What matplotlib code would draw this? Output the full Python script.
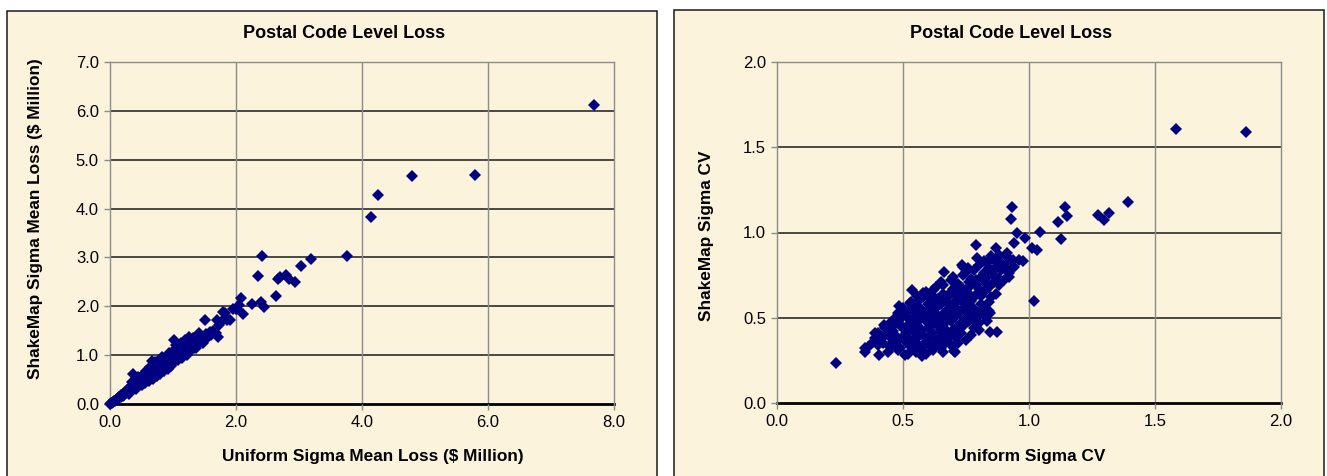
import numpy as np
import matplotlib
matplotlib.use("Agg")
import matplotlib.pyplot as plt
from matplotlib.patches import Rectangle

plt.rcParams['font.family'] = ['Liberation Sans', 'DejaVu Sans']

W, H = 1327, 476

# postal code mean loss, $ Million: (uniform sigma, shakemap sigma)
loss_points = [
    (0.00, 0.00), (0.02, 0.02), (0.03, 0.03), (0.05, 0.04), (0.06, 0.06), (0.08, 0.07),
    (0.09, 0.09), (0.11, 0.10), (0.12, 0.12), (0.14, 0.12), (0.15, 0.15), (0.17, 0.14),
    (0.18, 0.18), (0.20, 0.16), (0.21, 0.21), (0.23, 0.19), (0.24, 0.25), (0.26, 0.22),
    (0.27, 0.28), (0.29, 0.24), (0.30, 0.32), (0.32, 0.27), (0.33, 0.35), (0.35, 0.29),
    (0.36, 0.39), (0.37, 0.62), (0.38, 0.33), (0.40, 0.44), (0.41, 0.36), (0.43, 0.47),
    (0.44, 0.39), (0.46, 0.51), (0.47, 0.41), (0.49, 0.55), (0.50, 0.44), (0.52, 0.59),
    (0.53, 0.47), (0.55, 0.63), (0.56, 0.50), (0.58, 0.56), (0.60, 0.70), (0.61, 0.53),
    (0.63, 0.62), (0.66, 0.88), (0.66, 0.73), (0.67, 0.57), (0.69, 0.79), (0.70, 0.65),
    (0.72, 0.61), (0.73, 0.84), (0.75, 0.71), (0.76, 0.67), (0.78, 0.90), (0.79, 0.75),
    (0.81, 0.70), (0.82, 0.96), (0.84, 0.81), (0.85, 0.74), (0.87, 0.89), (0.88, 0.79),
    (0.90, 0.98), (0.91, 0.85), (0.93, 0.81), (0.95, 0.93), (0.96, 1.03), (0.98, 0.88),
    (1.01, 1.32), (1.01, 0.96), (1.03, 1.11), (1.05, 0.93), (1.07, 1.03), (1.09, 1.16),
    (1.11, 0.99), (1.13, 1.08), (1.16, 1.01), (1.18, 1.21), (1.20, 1.11), (1.23, 1.07),
    (1.26, 1.38), (1.27, 1.16), (1.30, 1.23), (1.33, 1.14), (1.35, 1.31), (1.38, 1.21),
    (1.40, 1.41), (1.43, 1.28), (1.45, 1.36), (1.48, 1.31), (1.51, 1.71), (1.52, 1.43),
    (1.55, 1.38), (1.58, 1.47), (1.61, 1.41), (1.64, 1.50), (1.68, 1.45), (1.70, 1.72),
    (1.72, 1.38), (1.73, 1.62), (1.77, 1.70), (1.80, 1.89), (1.82, 1.86), (1.85, 1.71),
    (1.90, 1.71), (1.95, 1.95), (2.00, 1.94), (2.02, 1.95), (2.05, 2.02), (2.08, 2.16),
    (2.11, 1.85), (2.25, 2.04), (2.35, 2.61), (2.40, 2.09), (2.42, 3.03), (2.44, 1.98),
    (2.63, 2.22), (2.66, 2.55), (2.70, 2.59), (2.79, 2.64), (2.84, 2.55), (2.94, 2.49),
    (3.03, 2.82), (3.19, 2.97), (3.76, 3.03), (4.14, 3.82), (4.26, 4.28), (4.80, 4.67),
    (5.79, 4.69), (7.69, 6.12),
    (0.30, 0.20), (0.35, 0.45), (0.42, 0.30), (0.45, 0.55), (0.50, 0.38), (0.55, 0.42),
    (0.57, 0.68), (0.62, 0.48), (0.64, 0.76), (0.68, 0.52), (0.71, 0.85), (0.74, 0.58),
    (0.77, 0.80), (0.80, 0.62), (0.83, 0.88), (0.86, 0.68), (0.89, 0.93), (0.92, 0.72),
    (0.94, 1.05), (0.97, 0.78), (1.00, 1.08), (1.02, 0.86), (1.05, 1.20), (1.08, 0.90),
    (1.12, 1.25), (1.15, 0.95), (1.19, 1.30), (1.22, 1.00), (1.25, 1.25), (1.29, 1.10),
    (1.32, 1.35), (1.37, 1.15), (1.42, 1.45), (1.47, 1.24), (1.50, 1.40),
]

# postal code coefficient of variation: (uniform sigma, shakemap sigma)
cv_points = [
    (0.235, 0.236), (0.348, 0.322), (0.348, 0.297), (0.389, 0.410), (0.404, 0.281),
    (0.425, 0.459), (0.429, 0.448), (0.486, 0.570), (0.534, 0.664), (0.528, 0.588),
    (0.557, 0.629), (0.581, 0.645), (0.618, 0.629), (0.663, 0.766), (0.704, 0.307),
    (0.706, 0.301), (0.733, 0.812), (0.759, 0.790), (0.792, 0.852), (0.788, 0.927),
    (0.869, 0.911), (0.911, 0.878), (0.937, 0.840), (0.977, 0.830), (0.832, 0.819),
    (0.940, 0.937), (0.954, 0.999), (0.984, 0.970), (0.929, 1.081), (0.931, 1.148),
    (1.012, 0.908), (1.032, 0.898), (1.045, 1.002), (1.018, 0.600), (1.116, 1.064),
    (1.126, 0.961), (1.141, 1.148), (1.151, 1.098), (1.273, 1.104), (1.297, 1.074),
    (1.317, 1.113), (1.392, 1.176), (1.583, 1.607), (1.861, 1.590), (0.844, 0.418),
    (0.873, 0.418), (0.834, 0.479), (0.846, 0.527), (0.576, 0.277), (0.508, 0.283),
    (0.44, 0.30), (0.48, 0.31), (0.52, 0.29), (0.55, 0.30), (0.59, 0.29), (0.62, 0.31), (0.66, 0.30),
    (0.36, 0.33), (0.40, 0.34), (0.45, 0.33), (0.49, 0.32), (0.53, 0.33), (0.57, 0.32),
    (0.61, 0.33), (0.65, 0.32), (0.69, 0.34),
    (0.38, 0.36), (0.42, 0.35), (0.47, 0.35), (0.51, 0.36), (0.55, 0.35), (0.59, 0.36),
    (0.63, 0.35), (0.67, 0.36), (0.72, 0.35),
    (0.41, 0.38), (0.45, 0.39), (0.48, 0.37), (0.52, 0.38), (0.56, 0.39), (0.60, 0.38),
    (0.64, 0.37), (0.68, 0.39), (0.71, 0.38), (0.75, 0.37),
    (0.40, 0.41), (0.44, 0.42), (0.47, 0.40), (0.51, 0.41), (0.54, 0.42), (0.58, 0.40),
    (0.62, 0.41), (0.65, 0.42), (0.69, 0.40), (0.73, 0.41), (0.77, 0.40), (0.80, 0.43),
    (0.43, 0.44), (0.46, 0.45), (0.50, 0.44), (0.53, 0.45), (0.57, 0.43), (0.60, 0.44),
    (0.64, 0.45), (0.67, 0.43), (0.71, 0.44), (0.74, 0.45), (0.78, 0.44),
    (0.45, 0.47), (0.48, 0.48), (0.52, 0.46), (0.55, 0.47), (0.59, 0.48), (0.62, 0.47),
    (0.66, 0.46), (0.69, 0.48), (0.73, 0.47), (0.76, 0.48), (0.80, 0.47),
    (0.47, 0.50), (0.50, 0.51), (0.54, 0.49), (0.57, 0.50), (0.61, 0.51), (0.64, 0.49),
    (0.68, 0.50), (0.71, 0.51), (0.75, 0.50), (0.78, 0.49), (0.82, 0.51),
    (0.48, 0.53), (0.52, 0.54), (0.55, 0.52), (0.59, 0.53), (0.62, 0.54), (0.66, 0.52),
    (0.69, 0.53), (0.73, 0.54), (0.76, 0.52), (0.80, 0.53), (0.84, 0.54),
    (0.50, 0.56), (0.54, 0.57), (0.57, 0.55), (0.61, 0.56), (0.64, 0.57), (0.68, 0.55),
    (0.71, 0.56), (0.75, 0.57), (0.78, 0.55), (0.82, 0.56),
    (0.53, 0.59), (0.56, 0.60), (0.60, 0.58), (0.63, 0.59), (0.67, 0.60), (0.70, 0.58),
    (0.74, 0.59), (0.77, 0.60), (0.81, 0.58), (0.84, 0.59),
    (0.57, 0.62), (0.60, 0.63), (0.64, 0.61), (0.67, 0.62), (0.71, 0.63), (0.74, 0.61),
    (0.78, 0.62), (0.81, 0.63), (0.85, 0.62),
    (0.59, 0.65), (0.62, 0.66), (0.66, 0.64), (0.69, 0.65), (0.73, 0.66), (0.76, 0.64),
    (0.80, 0.65), (0.83, 0.66), (0.87, 0.64),
    (0.63, 0.68), (0.66, 0.69), (0.70, 0.67), (0.73, 0.68), (0.77, 0.69), (0.80, 0.67),
    (0.84, 0.68), (0.88, 0.69),
    (0.65, 0.71), (0.69, 0.72), (0.72, 0.70), (0.76, 0.71), (0.79, 0.72), (0.83, 0.70),
    (0.86, 0.71), (0.90, 0.72),
    (0.70, 0.74), (0.74, 0.75), (0.77, 0.73), (0.81, 0.74), (0.84, 0.75), (0.88, 0.73), (0.92, 0.74),
    (0.75, 0.77), (0.78, 0.78), (0.82, 0.76), (0.85, 0.77), (0.89, 0.78), (0.92, 0.76),
    (0.74, 0.80), (0.80, 0.81), (0.84, 0.79), (0.87, 0.80), (0.91, 0.81), (0.94, 0.80),
    (0.82, 0.83), (0.86, 0.84), (0.89, 0.82), (0.93, 0.83), (0.96, 0.84),
    (0.85, 0.86), (0.88, 0.87), (0.91, 0.86),
    (0.46, 0.36), (0.50, 0.39), (0.54, 0.37), (0.58, 0.34), (0.62, 0.39), (0.66, 0.40),
    (0.70, 0.43), (0.56, 0.45), (0.60, 0.50), (0.63, 0.52), (0.67, 0.48), (0.70, 0.55),
    (0.72, 0.60), (0.65, 0.58), (0.58, 0.62), (0.62, 0.60), (0.75, 0.66), (0.79, 0.70),
    (0.82, 0.72), (0.86, 0.75), (0.68, 0.62), (0.72, 0.65), (0.55, 0.55), (0.52, 0.50),
    (0.49, 0.46), (0.46, 0.42), (0.42, 0.39), (0.39, 0.38),
]

loss_ticks_x = [0.0, 2.0, 4.0, 6.0, 8.0]
loss_ticks_y = [0.0, 1.0, 2.0, 3.0, 4.0, 5.0, 6.0, 7.0]
cv_ticks = [0.0, 0.5, 1.0, 1.5, 2.0]

panel_bg = '#fcf3dd'
navy = '#000080'


def fx(px):
    return px / W


def fy(py):
    return 1 - py / H


fig = plt.figure(figsize=(W / 100, H / 100), dpi=100)

# chart area frames, kept behind the axes
for x0, x1, top in [(7, 657, 11), (674, 1324, 9.5)]:
    fig.patches.append(Rectangle((fx(x0), -0.02), fx(x1) - fx(x0), fy(top) + 0.02,
                                 transform=fig.transFigure, facecolor=panel_bg,
                                 edgecolor='#1a1a1a', lw=1.1, zorder=-5))


def style_axes(ax, xt, yt):
    ax.set_facecolor('none')
    ax.set_xlim(xt[0], xt[-1])
    ax.set_ylim(yt[0], yt[-1])
    ax.set_xticks(xt)
    ax.set_yticks(yt)
    ax.xaxis.set_major_formatter(plt.FormatStrFormatter('%.1f'))
    ax.yaxis.set_major_formatter(plt.FormatStrFormatter('%.1f'))
    for v in yt[1:-1]:
        ax.axhline(v, color='#3a3a3a', lw=1.3, zorder=1)
    for v in xt[1:-1]:
        ax.axvline(v, color='#8c8c8c', lw=1.0, zorder=1)
    for side in ['top', 'right', 'left']:
        ax.spines[side].set_color('#8c8c8c')
        ax.spines[side].set_linewidth(1.0)
    ax.spines['bottom'].set_color('black')
    ax.spines['bottom'].set_linewidth(2.0)
    ax.spines['bottom'].set_zorder(1.5)
    ax.tick_params(direction='out', length=4, width=1, color='#8c8c8c',
                   labelsize=12, labelcolor='black', pad=4)


ax1 = fig.add_axes([fx(110), fy(404), fx(614) - fx(110), fy(62) - fy(404)])
style_axes(ax1, loss_ticks_x, loss_ticks_y)
lx, ly = np.array(loss_points).T
ax1.plot(lx, ly, 'D', ms=6.4, color=navy, mew=0, clip_on=False, zorder=3)

ax2 = fig.add_axes([fx(777), fy(403), fx(1281) - fx(777), fy(62) - fy(403)])
style_axes(ax2, cv_ticks, cv_ticks)
cx, cy = np.array(cv_points).T
ax2.plot(cx, cy, 'D', ms=6.4, color=navy, mew=0, clip_on=False, zorder=3)

title_kw = dict(fontweight='bold', fontsize=13, ha='center', va='center')
label_kw = dict(fontweight='bold', fontsize=12.4, ha='center', va='center')
fig.text(fx(344), fy(34), 'Postal Code Level Loss', **title_kw)
fig.text(fx(1011), fy(34), 'Postal Code Level Loss', **title_kw)
fig.text(fx(373), fy(457), 'Uniform Sigma Mean Loss ($ Million)', **label_kw)
fig.text(fx(1030), fy(457), 'Uniform Sigma CV', **label_kw)
fig.text(fx(36), fy(219), 'ShakeMap Sigma Mean Loss ($ Million)', rotation=90, **label_kw)
fig.text(fx(707), fy(236), 'ShakeMap Sigma CV', rotation=90, **label_kw)

fig.savefig('out.png', dpi=100)
